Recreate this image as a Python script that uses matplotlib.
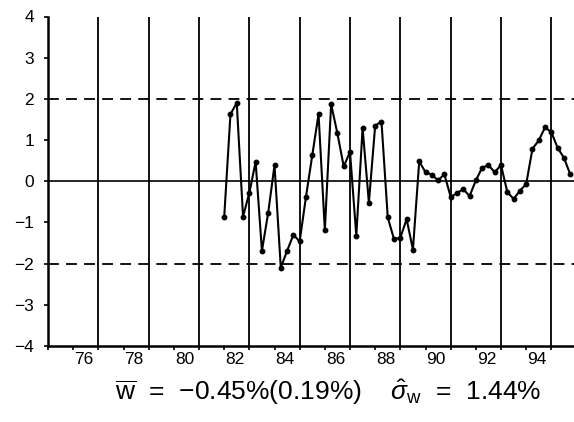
import matplotlib
matplotlib.use("Agg")
import matplotlib.pyplot as plt
import numpy as np

plt.rcParams['font.family'] = ['Liberation Sans', 'DejaVu Sans']
plt.rcParams['mathtext.fontset'] = 'custom'
plt.rcParams['mathtext.rm'] = 'Liberation Sans'
plt.rcParams['mathtext.it'] = 'Liberation Sans:italic'

# quarterly values, first quarter of 82 through last quarter of 95
start = 82.0
values = [-0.88, 1.63, 1.90, -0.86, -0.28, 0.47, -1.69, -0.76, 0.39, -2.10,
          -1.69, -1.30, -1.46, -0.38, 0.63, 1.63, -1.18, 1.87, 1.16, 0.36,
          0.71, -1.32, 1.29, -0.52, 1.35, 1.45, -0.88, -1.41, -1.37, -0.92,
          -1.66, 0.48, 0.22, 0.16, 0.02, 0.17, -0.38, -0.29, -0.19, -0.36,
          0.02, 0.33, 0.39, 0.22, 0.39, -0.26, -0.43, -0.23, -0.07, 0.79,
          0.99, 1.31, 1.19, 0.81, 0.57, 0.17]
x = start + 0.25 * np.arange(len(values))

year_labels = ['76', '78', '80', '82', '84', '86', '88', '90', '92', '94']
label_years = [76, 78, 80, 82, 84, 86, 88, 90, 92, 94]
grid_years = [77, 79, 81, 83, 85, 87, 89, 91, 93, 95]
y_ticks = [-4, -3, -2, -1, 0, 1, 2, 3, 4]
y_labels = ['\u22124', '\u22123', '\u22122', '\u22121', '0', '1', '2', '3', '4']
band = 2.0
caption = r'$\overline{\rm w}$  =  $-$0.45%(0.19%)    $\hat{\sigma}_{\rm w}$  =  1.44%'

fig = plt.figure(figsize=(5.74, 4.22), dpi=100)
ax = fig.add_axes([48 / 574, 76 / 422, 1 - 48 / 574, (346 - 16.5) / 422])

for g in grid_years:
    ax.axvline(g, color='black', lw=1.3, zorder=1)
ax.axhline(0, color='black', lw=1.2, zorder=1)
ax.axhline(band, color='black', lw=1.3, ls=(0, (6, 4)), zorder=1)
ax.axhline(-band, color='black', lw=1.3, ls=(0, (6, 4)), zorder=1)

ax.plot(x, values, color='black', lw=1.5, marker='o', ms=3.2, zorder=3)

ax.set_xlim(75, 95.9)
ax.set_ylim(-4, 4)

ax.set_xticks(np.arange(75, 96), minor=True)
ax.set_xticks([y + 0.42 for y in label_years])
ax.set_xticklabels(year_labels, fontsize=12.5)
ax.tick_params(axis='x', which='major', length=0, pad=4)
ax.tick_params(axis='x', which='minor', length=3, width=1.2, direction='out')

ax.set_yticks(y_ticks)
ax.set_yticklabels(y_labels, fontsize=12.5)
ax.tick_params(axis='y', length=3, width=1.2, direction='out', pad=7)

for s in ['top', 'right']:
    ax.spines[s].set_visible(False)
for s in ['left', 'bottom']:
    ax.spines[s].set_linewidth(1.8)

fig.text(0.572, 0.072, caption, ha='center', va='center', fontsize=19)

fig.savefig('out.png', dpi=100)
